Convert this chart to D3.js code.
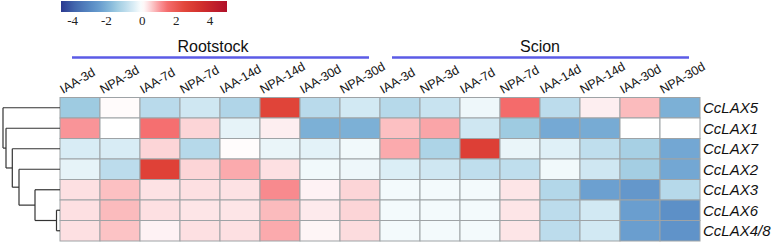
<!DOCTYPE html>
<html><head><meta charset="utf-8">
<script src="https://cdn.jsdelivr.net/npm/d3@7"></script>
<style>body{margin:0;background:#fff}svg{display:block}</style>
</head><body>
<svg id="c" width="774" height="243"></svg>
<script>
const columns = ["IAA-3d","NPA-3d","IAA-7d","NPA-7d","IAA-14d","NPA-14d","IAA-30d","NPA-30d",
                 "IAA-3d","NPA-3d","IAA-7d","NPA-7d","IAA-14d","NPA-14d","IAA-30d","NPA-30d"];
const groups = ["Rootstock","Scion"];
const rows = ["CcLAX5","CcLAX1","CcLAX7","CcLAX2","CcLAX3","CcLAX6","CcLAX4/8"];
const vLAX5  = [-1.5, 0.05,-1.05,-0.7,-1.2, 2.6,-1.05,-0.65, -1.1,-0.8,-0.25, 1.5,-1.0, 0.2, 0.7,-2.1];
const vLAX1  = [1.05, 0, 1.45, 0.45,-0.35, 0.2,-2.1,-2.1, 0.65, 0.9,-0.7,-1.5,-2.25,-2.2, 0, 0];
const vLAX7  = [-0.55,-0.55, 0.45,-1.1, 0.04,-0.3,-0.4,-0.2, 0.85,-1.25, 2.8,-0.3,-0.45,-0.95,-1.35,-2.3];
const vLAX2  = [-0.35,-1.0, 2.7, 0.45, 0.85, 0.35,-0.2,-0.25, -0.5,-0.7,-0.95,-0.95,-0.2,-0.7,-1.4,-2.3];
const vLAX3  = [0.35, 0.65, 0.33, 0.35, 0.33, 1.15, 0.15, 0.45, -0.17,-0.17,-0.17, 0.3,-1.15,-2.45,-2.7,-1.1];
const vLAX6  = [0.35, 0.7, 0.35, 0.3, 0.3, 0.7, 0.25, 0.45, -0.17,-0.17,-0.17, 0.3,-1.0,-0.65,-2.5,-2.9];
const vLAX48 = [0.35, 0.62, 0.15, 0.35, 0.35, 0.85, 0.12, 0.38, -0.17,-0.17,-0.17, 0.3,-1.0,-0.65,-2.5,-2.8];
const values = [vLAX5, vLAX1, vLAX7, vLAX2, vLAX3, vLAX6, vLAX48];
const legendTicks = [-4,-2,0,2,4];
// dendrogram (merge heights)
const tree = {h:5.7, children:[{name:"CcLAX5"}, {h:5.4, children:[{name:"CcLAX1"}, {h:4.77, children:[{name:"CcLAX7"},
  {h:4.1, children:[{name:"CcLAX2"}, {h:2.5, children:[{name:"CcLAX3"}, {h:0.35, children:[{name:"CcLAX6"},{name:"CcLAX4/8"}]}]}]}]}]}]};

const colorStops = [-4.8,-4,-3,-2.5,-2,-1.5,-1,-0.5,-0.25,0,0.25,0.5,0.8,1.1,1.5,2.5,3.5,5];
const colorRange = ["#2b3990","#4266ad","#5a8cc5","#6a9ecf","#80b4d8","#9ecbe1","#bcdcec","#dbeef6","#eef7fa","#ffffff",
                    "#fdeaec","#fcd0d2","#fbb0b2","#f98e93","#f46b6b","#e2463a","#d12f2c","#b0102a"];
const color = d3.scaleLinear().domain(colorStops).range(colorRange).clamp(true);

const svg = d3.select("#c");
const x = d3.scaleBand().domain(d3.range(columns.length)).range([60, 700]);
const y = d3.scaleBand().domain(rows).range([97.5, 241]);

// cells
const cells = [];
values.forEach((r,i)=>r.forEach((v,j)=>cells.push({row:rows[i], col:j, v})));
svg.append("g").selectAll("rect").data(cells).join("rect")
  .attr("x", d=>x(d.col)).attr("y", d=>y(d.row))
  .attr("width", x.bandwidth()).attr("height", y.bandwidth())
  .attr("fill", d=>color(d.v)).attr("stroke","#9ea3a6").attr("stroke-width",1);

// row labels
svg.append("g").selectAll("text").data(rows).join("text")
  .attr("x", 703).attr("y", d=>y(d)+y.bandwidth()/2).attr("dy","0.36em")
  .attr("font-family","Liberation Sans, Arial, sans-serif").attr("font-style","italic")
  .attr("font-size",15).attr("fill","#111").text(d=>d);

// column labels
svg.append("g").selectAll("text").data(columns).join("text")
  .attr("transform",(d,i)=>`translate(${x(i)+3},94) rotate(-30)`)
  .attr("font-family","Liberation Sans, Arial, sans-serif").attr("font-size",12.5)
  .attr("fill","#111").text(d=>d);

// group labels and lines
const gx = d3.scaleBand().domain(groups).range([60, 700]);
const gg = svg.append("g").selectAll("g").data(groups).join("g");
gg.append("line")
  .attr("x1", d=>gx(d)+12).attr("x2", d=>gx(d)+gx.bandwidth()-11)
  .attr("y1",57.5).attr("y2",57.5).attr("stroke","#5b5be6").attr("stroke-width",2.6);
gg.append("text").attr("x", d=>gx(d)+gx.bandwidth()/2-(d==="Rootstock"?7:0)).attr("y",51.5)
  .attr("text-anchor","middle").attr("font-family","Liberation Sans, Arial, sans-serif")
  .attr("font-size",16).attr("fill","#111").text(d=>d);

// dendrogram
const root = d3.hierarchy(tree);
const hx = d3.scaleLinear().domain([0, 5.7]).range([60, 3]);
root.leaves().forEach(l=>{ l.yy = y(l.data.name)+y.bandwidth()/2; });
root.eachAfter(n=>{ if(n.children){ n.yy = d3.mean(n.children, c=>c.yy); } });
const hOf = n=> n.children ? n.data.h : 0;
const dg = svg.append("g").attr("stroke","#333").attr("stroke-width",1.2).attr("fill","none");
root.each(n=>{
  if(!n.children) return;
  const xn = hx(n.data.h);
  dg.append("line").attr("x1",xn).attr("x2",xn).attr("y1",n.children[0].yy).attr("y2",n.children[n.children.length-1].yy);
  n.children.forEach(c=>{
    dg.append("line").attr("x1",xn).attr("x2",hx(hOf(c))).attr("y1",c.yy).attr("y2",c.yy);
  });
});

// legend
const lx = d3.scaleLinear().domain([-4.8, 5]).range([61, 227]);
const defs = svg.append("defs");
const grad = defs.append("linearGradient").attr("id","lg").attr("x1","0%").attr("x2","100%");
d3.range(0, 1.0001, 0.02).forEach(t=>{
  grad.append("stop").attr("offset", t).attr("stop-color", color(lx.domain()[0] + t*(lx.domain()[1]-lx.domain()[0])));
});
svg.append("rect").attr("x",61).attr("y",1).attr("width",166).attr("height",11).attr("fill","url(#lg)");
svg.append("g").selectAll("text").data(legendTicks).join("text")
  .attr("x", d=>lx(d) - (d<0?2:0)).attr("y",25).attr("text-anchor","middle")
  .attr("font-family","Liberation Serif, Times New Roman, serif").attr("font-size",13).attr("fill","#222")
  .text(d=>d);
</script>
</body></html>
